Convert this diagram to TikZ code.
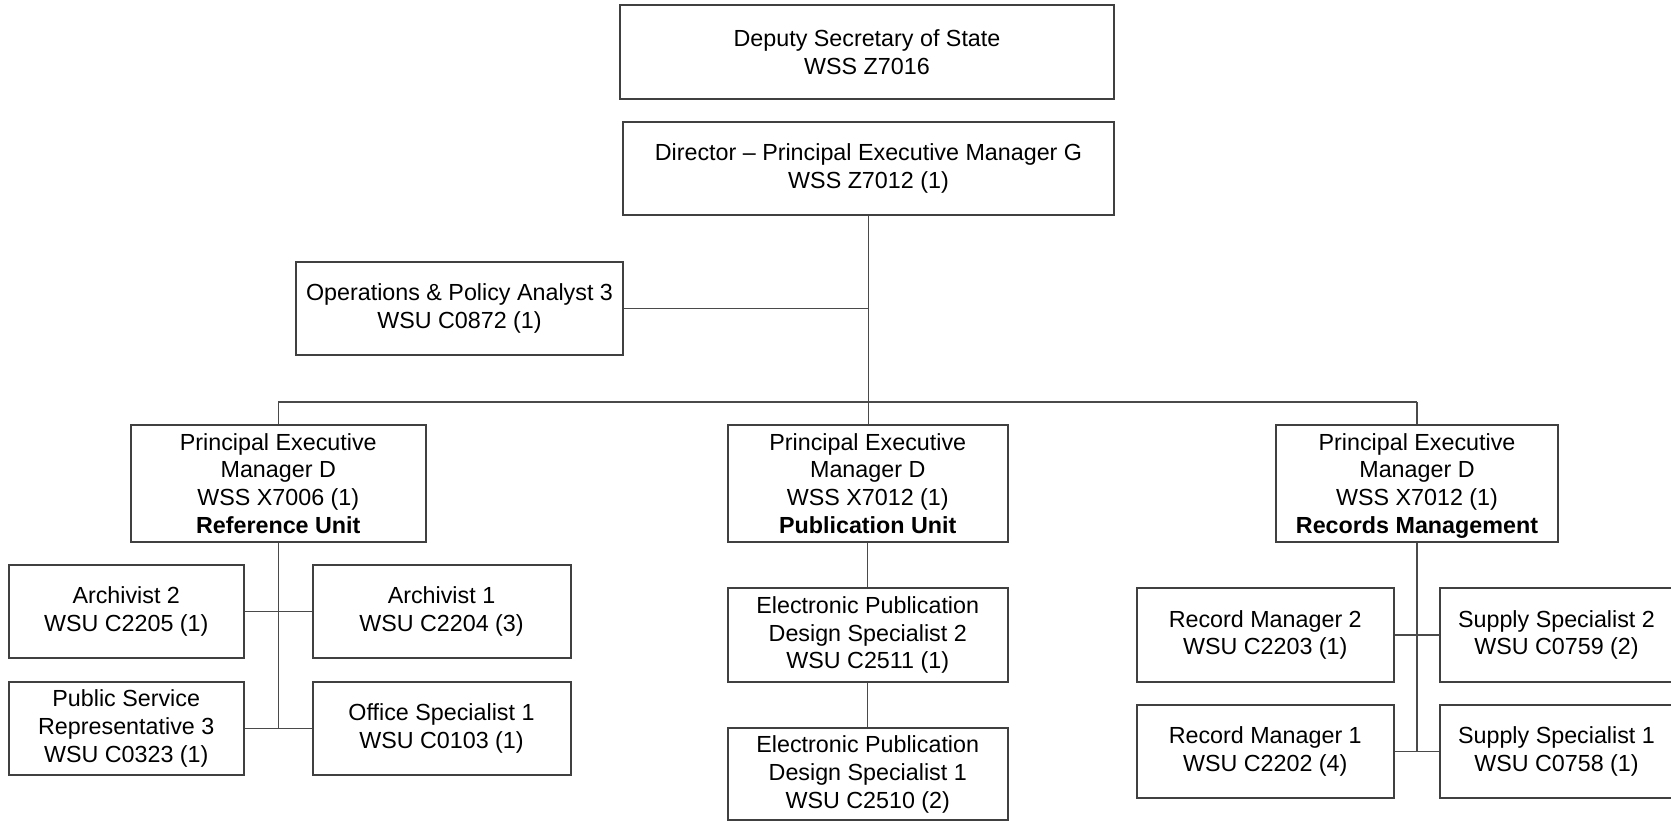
\documentclass[tikz,border=0pt]{standalone}
\usepackage{fontspec}
\setmainfont{Liberation Sans}
\definecolor{boxline}{HTML}{404040}
\definecolor{linkline}{HTML}{4A4A4A}
\begin{document}
\begin{tikzpicture}[x=1pt,y=-1pt,
  box/.style={draw=boxline, line width=2pt, rectangle, inner sep=0pt,
    align=center, font=\fontsize{23.3}{27.7}\selectfont, text=black},
  link/.style={draw=linkline, line width=1.3pt}]
\useasboundingbox (0,0) rectangle (1671,821);

% top of the hierarchy
\node[box, minimum width=494pt, minimum height=94pt] (dep) at (867,52) {Deputy Secretary of State\\WSS Z7016};
\node[box, minimum width=491pt, minimum height=93.5pt] (dir) at (868.5,168.75) {Director -- Principal Executive Manager G\\WSS Z7012 (1)};
\node[box, minimum width=327pt, minimum height=93pt] (ops) at (459.5,308.5) {Operations \& Policy Analyst 3\\WSU C0872 (1)};

% unit managers
\node[box, minimum width=294.5pt, minimum height=116.5pt] (pemL) at (278.25,483.25) {Principal Executive\\Manager D\\WSS X7006 (1)\\\textbf{Reference Unit}};
\node[box, minimum width=280.5pt, minimum height=116.5pt] (pemM) at (867.75,483.25) {Principal Executive\\Manager D\\WSS X7012 (1)\\\textbf{Publication Unit}};
\node[box, minimum width=282pt, minimum height=116.5pt] (pemR) at (1417,483.25) {Principal Executive\\Manager D\\WSS X7012 (1)\\\raisebox{0pt}[\height][0pt]{\textbf{Records Management}}};

% reference unit staff
\node[box, minimum width=234.5pt, minimum height=93.3pt] (arch2) at (126.25,611.65) {Archivist 2\\WSU C2205 (1)};
\node[box, minimum width=258pt, minimum height=93.3pt] (arch1) at (441.5,611.65) {Archivist 1\\WSU C2204 (3)};
\node[box, minimum width=234.5pt, minimum height=93.3pt] (psr) at (126.25,728.35) {Public Service\\Representative 3\\WSU C0323 (1)};
\node[box, minimum width=258pt, minimum height=93.3pt] (off) at (441.5,728.35) {Office Specialist 1\\WSU C0103 (1)};

% publication unit staff
\node[box, minimum width=280.5pt, minimum height=93.4pt] (ep2) at (867.75,635) {Electronic Publication\\Design Specialist 2\\WSU C2511 (1)};
\node[box, minimum width=280.5pt, minimum height=92pt] (ep1) at (867.75,774.3) {Electronic Publication\\Design Specialist 1\\WSU C2510 (2)};

% records management staff
\node[box, minimum width=257.5pt, minimum height=93.4pt] (rm2) at (1265.25,635) {Record Manager 2\\WSU C2203 (1)};
\node[box, minimum width=234pt, minimum height=93.4pt] (ss2) at (1556.5,635) {Supply Specialist 2\\WSU C0759 (2)};
\node[box, minimum width=257.5pt, minimum height=93.3pt] (rm1) at (1265.25,751.65) {Record Manager 1\\WSU C2202 (4)};
\node[box, minimum width=234pt, minimum height=93.3pt] (ss1) at (1556.5,751.65) {Supply Specialist 1\\WSU C0758 (1)};

% connectors
\coordinate (bus) at (868,402);
\draw[link] (dir.south) -- (dir.south |- pemM.north);
\draw[link] (ops.east) -- (ops.east -| dir.south);
\draw[link] (pemL.north |- bus) -- (pemR.north |- bus);
\draw[link] (pemL.north |- bus) -- (pemL.north);
\draw[link] (pemR.north |- bus) -- (pemR.north);

\draw[link] (pemL.south) -- (pemL.south |- psr.east);
\draw[link] (arch2.east) -- (arch1.west);
\draw[link] (psr.east) -- (off.west);

\draw[link] (pemM.south) -- (ep2.north);
\draw[link] (ep2.south) -- (ep1.north);

\draw[link] (pemR.south) -- (pemR.south |- rm1.east);
\draw[link] (rm2.east) -- (ss2.west);
\draw[link] (rm1.east) -- (ss1.west);
\end{tikzpicture}
\end{document}
